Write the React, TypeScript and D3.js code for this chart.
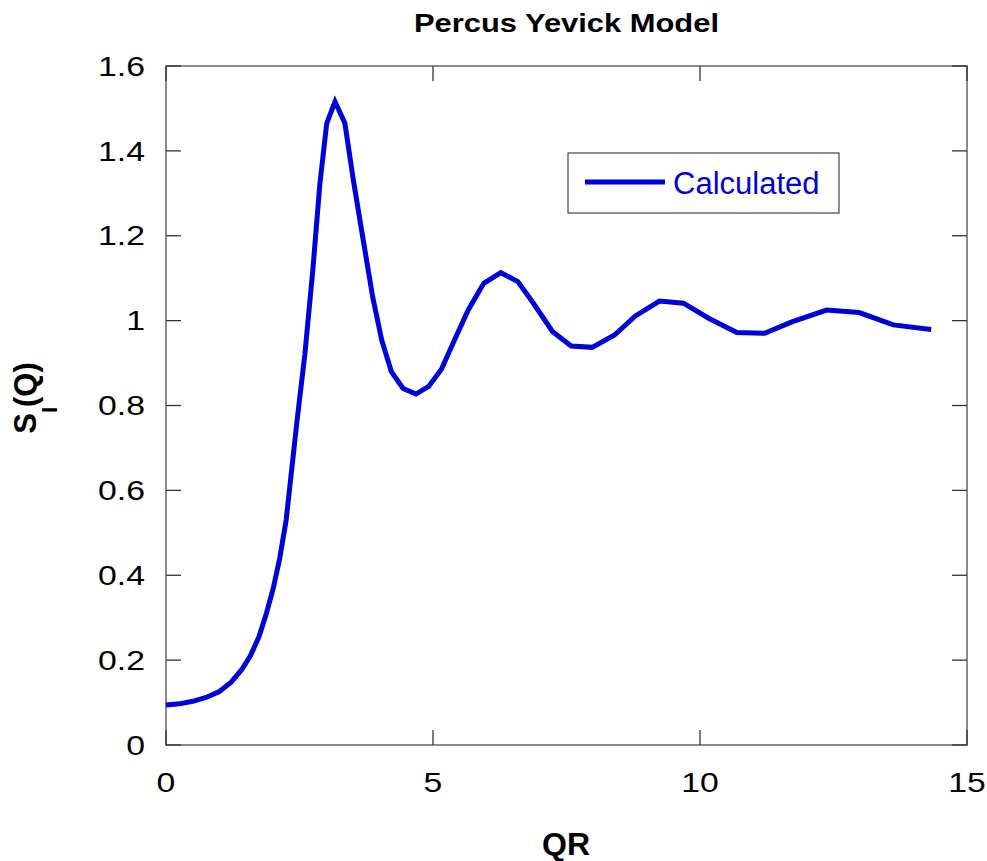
import React, { useEffect, useRef } from 'react';
import * as d3 from 'd3';

// Percus-Yevick structure factor
const qr = [
  0, 0.25, 0.5, 0.75, 1.0, 1.22, 1.42, 1.58, 1.74, 1.88, 2.01, 2.13, 2.25, 2.45, 2.6, 2.75, 2.88,
  3.01, 3.165, 3.35, 3.51, 3.68, 3.87, 4.04, 4.22, 4.44, 4.68, 4.92, 5.16, 5.4, 5.66, 5.95, 6.27,
  6.59, 6.88, 7.24, 7.59, 7.98, 8.4, 8.79, 9.24, 9.69, 10.17, 10.69, 11.21, 11.72, 12.37, 12.98,
  13.62, 14.33,
];
const sq = [
  0.094, 0.097, 0.103, 0.112, 0.126, 0.148, 0.178, 0.21, 0.255, 0.31, 0.37, 0.44, 0.53, 0.76, 0.92,
  1.12, 1.32, 1.465, 1.516, 1.465, 1.33, 1.2, 1.056, 0.954, 0.88, 0.84, 0.827, 0.845, 0.886, 0.954,
  1.025, 1.088, 1.113, 1.092, 1.041, 0.974, 0.94, 0.937, 0.966, 1.011, 1.046, 1.041, 1.005, 0.972,
  0.97, 0.997, 1.025, 1.019, 0.99, 0.979,
];
const xTicks = [0, 5, 10, 15];
const yTicks = [0, 0.2, 0.4, 0.6, 0.8, 1, 1.2, 1.4, 1.6];
const seriesName = 'Calculated';

function App() {
  const ref = useRef<SVGSVGElement>(null);

  useEffect(() => {
    const svg = d3.select(ref.current);
    svg.selectAll('*').remove();

    const left = 166, right = 967, top = 66, bottom = 745;
    const blue = '#0000d8';
    const font = 'Arial, "Liberation Sans", Helvetica, sans-serif';

    const x = d3.scaleLinear().domain([0, 15]).range([left, right]);
    const y = d3.scaleLinear().domain([0, 1.6]).range([bottom, top]);

    // title
    svg.append('text')
      .attr('x', 566.5).attr('y', 32)
      .attr('text-anchor', 'middle')
      .attr('font-family', font).attr('font-weight', 'bold').attr('font-size', 26)
      .attr('textLength', 305).attr('lengthAdjust', 'spacingAndGlyphs')
      .text('Percus Yevick Model');

    // frame
    svg.append('rect')
      .attr('x', left).attr('y', top)
      .attr('width', right - left).attr('height', bottom - top)
      .attr('fill', 'none').attr('stroke', '#666').attr('stroke-width', 1.5);

    const tickLen = 15;
    const ticks = svg.append('g').attr('stroke', '#333').attr('stroke-width', 1.3);
    yTicks.forEach(v => {
      ticks.append('line').attr('x1', left).attr('x2', left + tickLen).attr('y1', y(v)).attr('y2', y(v));
      ticks.append('line').attr('x1', right - tickLen).attr('x2', right).attr('y1', y(v)).attr('y2', y(v));
    });
    xTicks.forEach(v => {
      ticks.append('line').attr('x1', x(v)).attr('x2', x(v)).attr('y1', bottom).attr('y2', bottom - tickLen);
      ticks.append('line').attr('x1', x(v)).attr('x2', x(v)).attr('y1', top).attr('y2', top + tickLen);
    });

    // tick labels (slightly stretched like the original)
    const yFmt = (v: number) => (v === 0 || v === 1 ? String(v) : v.toFixed(1));
    svg.append('g').selectAll('text')
      .data(yTicks)
      .enter().append('text')
      .attr('transform', d => `translate(145,${y(d)}) scale(1.25,1)`)
      .attr('dy', '0.36em')
      .attr('text-anchor', 'end')
      .attr('font-family', font).attr('font-size', 27)
      .text(d => yFmt(d));

    svg.append('g').selectAll('text')
      .data(xTicks)
      .enter().append('text')
      .attr('transform', d => `translate(${x(d)},792) scale(1.25,1)`)
      .attr('text-anchor', 'middle')
      .attr('font-family', font).attr('font-size', 27)
      .text(d => String(d));

    // axis titles
    svg.append('text')
      .attr('x', 566).attr('y', 855)
      .attr('text-anchor', 'middle')
      .attr('font-family', font).attr('font-weight', 'bold').attr('font-size', 32)
      .text('QR');

    const yl = svg.append('text')
      .attr('transform', 'translate(36,398) rotate(-90)')
      .attr('text-anchor', 'middle')
      .attr('font-family', font).attr('font-weight', 'bold').attr('font-size', 31);
    yl.append('tspan').text('S');
    yl.append('tspan').attr('dy', 21).attr('font-size', 22).text('I');
    yl.append('tspan').attr('dy', -21).text('(Q)');

    // the curve
    const pts: [number, number][] = qr.map((q, i) => [q, sq[i]]);
    const line = d3.line<[number, number]>()
      .x(d => x(d[0]))
      .y(d => y(d[1]));
    svg.append('path')
      .datum(pts)
      .attr('fill', 'none')
      .attr('stroke', blue)
      .attr('stroke-width', 5)
      .attr('stroke-linejoin', 'miter')
      .attr('d', line);

    // legend
    const lg = svg.append('g');
    lg.append('rect')
      .attr('x', 568).attr('y', 153).attr('width', 271).attr('height', 60)
      .attr('fill', 'white').attr('stroke', '#444').attr('stroke-width', 1.2);
    lg.append('line')
      .attr('x1', 585).attr('x2', 665).attr('y1', 182).attr('y2', 182)
      .attr('stroke', blue).attr('stroke-width', 5);
    lg.append('text')
      .attr('x', 673).attr('y', 194)
      .attr('font-family', font).attr('font-size', 31)
      .attr('fill', blue)
      .text(seriesName);
  }, []);

  return (
    <svg
      ref={ref}
      width={987}
      height={861}
      style={{ position: 'absolute', left: 0, top: 0, background: 'white' }}
    />
  );
}

export default App;
